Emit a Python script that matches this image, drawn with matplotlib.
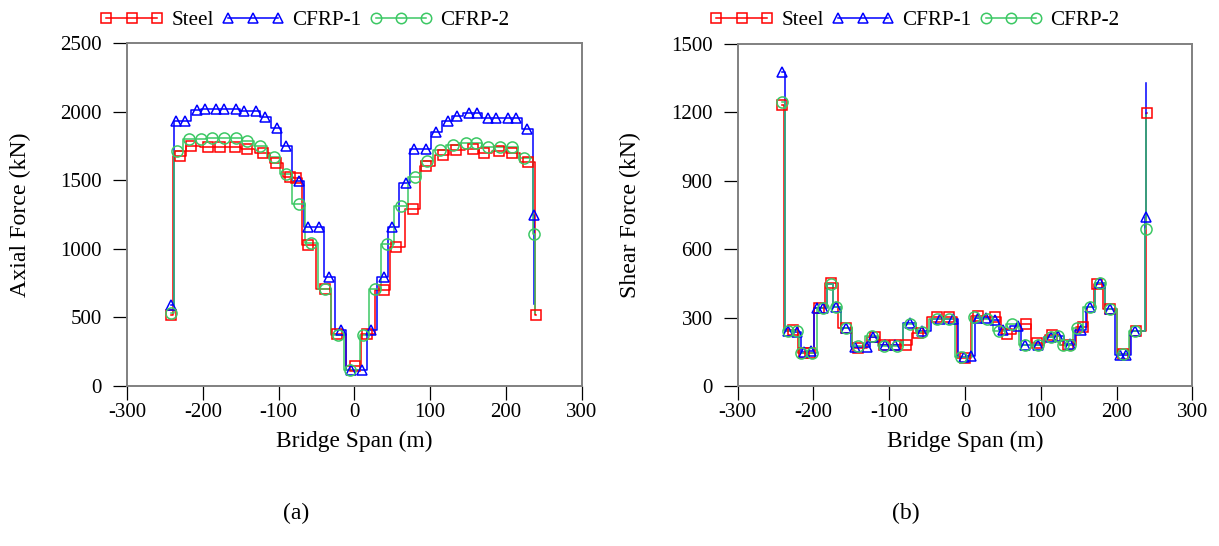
import matplotlib
matplotlib.use("Agg")
import matplotlib.pyplot as plt
from matplotlib.lines import Line2D

plt.rcParams["font.family"] = ["Liberation Serif", "DejaVu Serif"]
plt.rcParams["axes.unicode_minus"] = False

# (a) axial force, kN (points = marker positions)
steel_ax_x = [-242, -236, -230, -215, -193, -177.5, -157.7, -141.5, -120.4, -102.8, -85.2, -77,
              -61, -39, -23, 0.4, 16.6, 38.6, 55.3, 78, 94.9, 116.7, 134.4, 156.3, 171.7,
              191.4, 208, 228.7, 236, 239.6]
steel_ax_y = [516, 1680, 1680, 1750, 1745, 1745, 1745, 1731, 1695, 1622, 1524, 1513,
              1026, 710, 377, 144, 377, 703, 1014, 1287, 1605, 1683, 1720, 1731, 1695,
              1712, 1695, 1634, 1634, 516]
steel_ax_hide = [1, 28]

cfrp1_ax_x = [-242, -234.7, -223.6, -208, -197, -182.7, -171.8, -156.8, -145.8, -130, -118,
              -102, -90.5, -73, -61, -46, -33.5, -17.1, -4, 10.5, 22.4, 38.6, 50, 67.6, 78.5,
              94.9, 107.1, 123.3, 135.2, 151, 161.5, 176, 187, 202.4, 213.4, 228, 235, 236.5, 237]
cfrp1_ax_y = [590, 1931, 1931, 2011, 2018, 2018, 2018, 2018, 2006, 2006, 1962,
              1882, 1748, 1493, 1160, 1160, 795, 406, 120, 120, 406, 795, 1160, 1476, 1724,
              1724, 1848, 1933, 1969, 1987, 1987, 1950, 1950, 1950, 1950, 1872, 1872, 1245, 600]
cfrp1_ax_hide = [36, 38]

cfrp2_ax_x = [-242, -233.8, -218.3, -203, -187.6, -172.2, -156.8, -141, -124.8, -106.3, -90.5,
              -73.2, -56.7, -39, -21.6, -5.3, 4, 11.3, 27.7, 43.5, 61, 79.4, 96.2, 112.4, 130,
              146.7, 160.7, 176, 192.3, 208, 223.4, 235, 237.5, 238.5]
cfrp2_ax_y = [532, 1712, 1797, 1797, 1804, 1804, 1804, 1787, 1748, 1670, 1544,
              1328, 1043, 710, 370, 120, 120, 370, 710, 1034, 1311, 1525, 1639, 1719, 1756,
              1773, 1773, 1739, 1739, 1739, 1663, 1663, 1111, 530]
cfrp2_ax_hide = [16, 31, 33]

# (b) shear force, kN
steel_sh_x = [-242, -236.5, -226.7, -213, -205, -193, -177.4, -157, -140.9, -118.9, -107, -92,
              -78.4, -61.7, -37.5, -20.8, 0, 16.6, 39.5, 54.8, 79.9, 95, 115, 136.1, 156, 167,
              173.6, 191.2, 208.7, 226, 236, 240.4]
steel_sh_y = [1232, 246, 246, 146, 146, 341, 450, 253, 168, 216, 178, 178,
              180, 234, 304, 304, 121, 306, 303, 228, 271, 190, 222, 180, 257, 348,
              447, 336, 139, 240, 240, 1196]
steel_sh_hide = [1, 25, 30]

cfrp1_sh_x = [-242, -233, -222, -212, -203, -195.8, -187.9, -177, -170.7, -157, -145.3, -129.8,
              -121, -105, -92, -72.7, -57, -33, -15.6, -2, 8, 17, 27.2, 39.5, 49.6, 69.4, 79,
              96, 113, 123, 138.4, 152.9, 165, 178, 191.2, 205, 213, 224.2, 236, 238.6, 239]
cfrp1_sh_y = [1378, 240, 235, 150, 152, 341, 341, 447, 345, 253, 172, 172,
              216, 178, 178, 275, 242, 292, 292, 128, 131, 300, 297, 291, 245, 262, 180,
              180, 217, 219, 184, 245, 348, 450, 336, 138, 138, 243, 243, 743, 1330]
cfrp1_sh_hide = [7, 38, 40]

cfrp2_sh_x = [-242, -233, -222, -216.5, -202.4, -187.9, -177, -170.7, -157, -140.9, -123.2,
              -107, -90.2, -72.7, -57.3, -37.5, -20.8, -5.5, 8, 11.6, 28.5, 44.7, 62.3, 79,
              95.8, 113.3, 122, 129.6, 138, 147.2, 165, 178, 191.2, 208.7, 224.2, 236, 238.6, 239]
cfrp2_sh_y = [1247, 243, 240, 143, 143, 341, 447, 348, 253, 175, 219,
              175, 175, 272, 238, 292, 292, 126, 126, 304, 292, 241, 271, 180,
              180, 216, 218, 180, 180, 253, 348, 450, 336, 139, 243, 243, 687, 1190]
cfrp2_sh_hide = [18, 35, 37]

names = ["Steel", "CFRP-1", "CFRP-2"]
colors = ["#FF0000", "#0000FF", "#3CC864"]
markers = ["s", "^", "o"]
msizes = [7.5, 7.5, 8]

FS = 15


def draw_series(ax, x, y, hide, k):
    ax.plot(x, y, drawstyle="steps-mid", color=colors[k], lw=1.1, zorder=2 + k)
    xs = [v for i, v in enumerate(x) if i not in hide]
    ys = [v for i, v in enumerate(y) if i not in hide]
    ax.plot(xs, ys, ls="none", marker=markers[k], ms=msizes[k], mfc="none",
            mec=colors[k], mew=1.1, zorder=5 + k)


def style_axes(ax, ymax, ystep, ylabel):
    ax.set_xlim(-300, 300)
    ax.set_ylim(0, ymax)
    ax.set_xticks(range(-300, 301, 100))
    ax.set_yticks(range(0, ymax + 1, ystep))
    for sp in ax.spines.values():
        sp.set_color("#808080")
        sp.set_linewidth(1.4)
    ax.tick_params(axis="both", direction="out", length=10, width=0.9, color="black",
                   labelsize=FS)
    ax.tick_params(axis="y", pad=8)
    ax.tick_params(axis="x", pad=2)
    ax.set_xlabel("Bridge Span (m)", fontsize=16.8)
    ax.set_ylabel(ylabel, fontsize=17.2)
    ax.xaxis.set_label_coords(0.5, -0.132)
    ax.yaxis.set_label_coords(-0.212, 0.5)


def add_legend(fig, x0):
    handles = [Line2D([], [], color=colors[k], lw=1.1, marker=markers[k], ms=msizes[k] - 0.5,
                      mfc="none", mec=colors[k], mew=1.1) for k in range(3)]
    fig.legend(handles, names, loc="center left", bbox_to_anchor=(x0, 1 - 20 / 546),
               bbox_transform=fig.transFigure, ncol=3, frameon=False, numpoints=3,
               fontsize=15.2, handlelength=3.0, handletextpad=0.38, columnspacing=0.35,
               borderpad=0, borderaxespad=0)


fig = plt.figure(figsize=(12.19, 5.46), dpi=100)
ax1 = fig.add_axes([127 / 1219, 1 - 386 / 546, 454.7 / 1219, 343 / 546])
ax2 = fig.add_axes([737.7 / 1219, 1 - 386 / 546, 454.7 / 1219, 342 / 546])

draw_series(ax1, steel_ax_x, steel_ax_y, steel_ax_hide, 0)
draw_series(ax1, cfrp1_ax_x, cfrp1_ax_y, cfrp1_ax_hide, 1)
draw_series(ax1, cfrp2_ax_x, cfrp2_ax_y, cfrp2_ax_hide, 2)
style_axes(ax1, 2500, 500, "Axial Force (kN)")

draw_series(ax2, steel_sh_x, steel_sh_y, steel_sh_hide, 0)
draw_series(ax2, cfrp1_sh_x, cfrp1_sh_y, cfrp1_sh_hide, 1)
draw_series(ax2, cfrp2_sh_x, cfrp2_sh_y, cfrp2_sh_hide, 2)
style_axes(ax2, 1500, 300, "Shear Force (kN)")

add_legend(fig, 100 / 1219)
add_legend(fig, 710 / 1219)

fig.text(296 / 1219, 1 - 513 / 546, "(a)", ha="center", va="center", fontsize=17)
fig.text(906 / 1219, 1 - 513 / 546, "(b)", ha="center", va="center", fontsize=17)

fig.savefig("out.png", dpi=100, facecolor="white")
plt.close(fig)
